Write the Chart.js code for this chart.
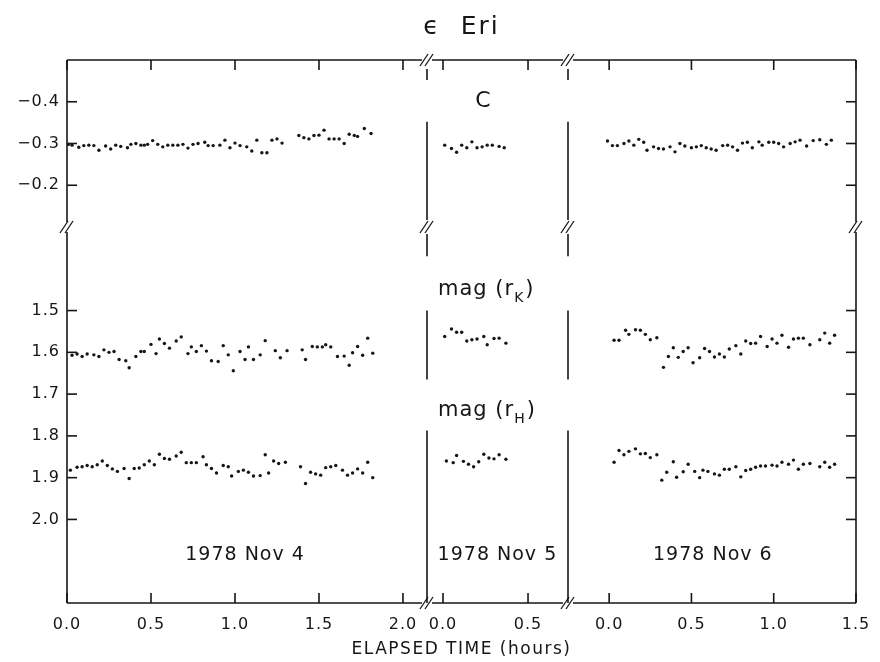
<!DOCTYPE html>
<html>
<head>
<meta charset="utf-8">
<title>eps Eri</title>
<script src="https://cdn.jsdelivr.net/npm/chart.js@4.4.0/dist/chart.umd.min.js"></script>
<style>
  html, body { margin: 0; padding: 0; background: #fff; }
  canvas { display: block; }
</style>
</head>
<body>
<canvas id="eriChart" width="880" height="662"></canvas>
<script>
// Elapsed time (hours) and values, one pair per series
const nov4TimeC = [0.01, 0.03, 0.07, 0.10, 0.13, 0.16, 0.19, 0.23, 0.26, 0.29, 0.32, 0.36, 0.38, 0.41, 0.44, 0.46, 0.48, 0.51, 0.54, 0.57,
  0.60, 0.63, 0.66, 0.69, 0.72, 0.75, 0.78, 0.82, 0.84, 0.87, 0.91, 0.94, 0.97, 1.00, 1.03, 1.07, 1.10, 1.13, 1.16, 1.19,
  1.22, 1.25, 1.28, 1.38, 1.41, 1.44, 1.47, 1.50, 1.53, 1.56, 1.59, 1.62, 1.65, 1.68, 1.71, 1.73, 1.77, 1.81];
const nov4C = [-0.298, -0.296, -0.291, -0.295, -0.296, -0.295, -0.284, -0.294, -0.287, -0.296, -0.293, -0.290, -0.298, -0.300, -0.296, -0.296, -0.298, -0.307, -0.298, -0.292,
  -0.296, -0.296, -0.296, -0.298, -0.289, -0.298, -0.300, -0.303, -0.295, -0.295, -0.296, -0.308, -0.290, -0.301, -0.295, -0.292, -0.282, -0.308, -0.278, -0.278,
  -0.308, -0.311, -0.301, -0.319, -0.314, -0.311, -0.319, -0.320, -0.332, -0.311, -0.311, -0.311, -0.300, -0.322, -0.319, -0.317, -0.336, -0.324];

const nov4TimeK = [0.03, 0.06, 0.09, 0.12, 0.16, 0.19, 0.22, 0.25, 0.28, 0.31, 0.35, 0.37, 0.41, 0.44, 0.46, 0.50, 0.53, 0.55, 0.58, 0.61,
  0.65, 0.68, 0.72, 0.74, 0.77, 0.80, 0.83, 0.86, 0.90, 0.93, 0.96, 0.99, 1.03, 1.06, 1.08, 1.11, 1.15, 1.18, 1.24, 1.27,
  1.31, 1.40, 1.42, 1.46, 1.49, 1.52, 1.54, 1.57, 1.61, 1.65, 1.68, 1.70, 1.73, 1.76, 1.79, 1.82];
const nov4K = [1.607, 1.604, 1.610, 1.604, 1.606, 1.610, 1.594, 1.600, 1.598, 1.617, 1.620, 1.637, 1.610, 1.598, 1.598, 1.581, 1.603, 1.568, 1.579, 1.590,
  1.573, 1.563, 1.603, 1.587, 1.598, 1.584, 1.597, 1.620, 1.622, 1.584, 1.606, 1.644, 1.598, 1.617, 1.587, 1.617, 1.606, 1.572, 1.596, 1.613,
  1.596, 1.594, 1.617, 1.586, 1.587, 1.587, 1.582, 1.587, 1.610, 1.609, 1.631, 1.601, 1.586, 1.607, 1.566, 1.602];

const nov4TimeH = [0.02, 0.06, 0.09, 0.12, 0.15, 0.18, 0.21, 0.24, 0.27, 0.30, 0.34, 0.37, 0.40, 0.43, 0.46, 0.49, 0.52, 0.55, 0.58, 0.61,
  0.65, 0.68, 0.71, 0.74, 0.77, 0.81, 0.83, 0.86, 0.89, 0.93, 0.96, 0.98, 1.02, 1.05, 1.08, 1.11, 1.15, 1.18, 1.20, 1.23,
  1.26, 1.30, 1.39, 1.42, 1.45, 1.48, 1.51, 1.54, 1.57, 1.60, 1.64, 1.67, 1.70, 1.73, 1.76, 1.79, 1.82];
const nov4H = [1.882, 1.875, 1.874, 1.871, 1.874, 1.869, 1.860, 1.871, 1.879, 1.885, 1.878, 1.902, 1.878, 1.877, 1.869, 1.860, 1.869, 1.844, 1.854, 1.856,
  1.848, 1.839, 1.864, 1.864, 1.864, 1.850, 1.869, 1.878, 1.889, 1.871, 1.874, 1.896, 1.885, 1.882, 1.887, 1.896, 1.895, 1.845, 1.889, 1.860,
  1.866, 1.863, 1.874, 1.914, 1.887, 1.891, 1.894, 1.876, 1.874, 1.871, 1.882, 1.894, 1.889, 1.879, 1.889, 1.863, 1.900];

const nov5TimeC = [0.01, 0.05, 0.08, 0.11, 0.14, 0.17, 0.20, 0.23, 0.26, 0.29, 0.33, 0.36];
const nov5C = [-0.296, -0.288, -0.279, -0.296, -0.290, -0.304, -0.290, -0.292, -0.296, -0.296, -0.293, -0.290];
const nov5TimeK = [0.01, 0.05, 0.08, 0.11, 0.14, 0.17, 0.20, 0.24, 0.26, 0.30, 0.33, 0.37];
const nov5K = [1.562, 1.544, 1.552, 1.552, 1.573, 1.570, 1.568, 1.562, 1.582, 1.567, 1.566, 1.578];
const nov5TimeH = [0.02, 0.06, 0.08, 0.12, 0.15, 0.18, 0.21, 0.24, 0.27, 0.30, 0.33, 0.37];
const nov5H = [1.860, 1.864, 1.847, 1.861, 1.868, 1.874, 1.862, 1.844, 1.853, 1.855, 1.845, 1.856];

const nov6TimeC = [-0.01, 0.02, 0.05, 0.09, 0.12, 0.15, 0.18, 0.21, 0.23, 0.27, 0.30, 0.33, 0.37, 0.40, 0.43, 0.46, 0.50, 0.53, 0.56, 0.59,
  0.62, 0.65, 0.69, 0.72, 0.75, 0.78, 0.81, 0.84, 0.87, 0.91, 0.93, 0.97, 1.00, 1.03, 1.06, 1.10, 1.13, 1.16, 1.20, 1.24,
  1.28, 1.32, 1.35];
const nov6C = [-0.306, -0.295, -0.295, -0.300, -0.306, -0.296, -0.310, -0.303, -0.284, -0.292, -0.288, -0.287, -0.292, -0.280, -0.300, -0.294, -0.290, -0.292, -0.295, -0.290,
  -0.287, -0.284, -0.295, -0.296, -0.292, -0.284, -0.301, -0.303, -0.290, -0.304, -0.296, -0.303, -0.303, -0.300, -0.292, -0.300, -0.304, -0.308, -0.294, -0.307,
  -0.309, -0.298, -0.308];

const nov6TimeK = [0.03, 0.06, 0.10, 0.12, 0.16, 0.19, 0.22, 0.25, 0.29, 0.33, 0.36, 0.39, 0.42, 0.45, 0.48, 0.51, 0.55, 0.58, 0.61, 0.64,
  0.67, 0.70, 0.73, 0.77, 0.80, 0.83, 0.86, 0.89, 0.92, 0.96, 0.99, 1.02, 1.05, 1.09, 1.12, 1.15, 1.18, 1.22, 1.28, 1.31,
  1.34, 1.37];
const nov6K = [1.571, 1.571, 1.547, 1.557, 1.546, 1.547, 1.557, 1.570, 1.565, 1.636, 1.610, 1.589, 1.612, 1.598, 1.589, 1.625, 1.613, 1.591, 1.598, 1.611,
  1.604, 1.611, 1.592, 1.584, 1.604, 1.573, 1.579, 1.578, 1.562, 1.586, 1.568, 1.578, 1.559, 1.588, 1.568, 1.566, 1.566, 1.582, 1.570, 1.554,
  1.578, 1.559];

const nov6TimeH = [0.03, 0.06, 0.09, 0.12, 0.16, 0.19, 0.22, 0.25, 0.29, 0.32, 0.35, 0.39, 0.41, 0.45, 0.48, 0.52, 0.55, 0.57, 0.60, 0.64,
  0.67, 0.70, 0.73, 0.77, 0.80, 0.83, 0.86, 0.89, 0.92, 0.95, 0.99, 1.02, 1.05, 1.09, 1.12, 1.15, 1.18, 1.22, 1.28, 1.31,
  1.34, 1.37];
const nov6H = [1.863, 1.835, 1.845, 1.837, 1.831, 1.843, 1.842, 1.852, 1.845, 1.906, 1.887, 1.862, 1.899, 1.886, 1.868, 1.885, 1.900, 1.882, 1.885, 1.891,
  1.894, 1.880, 1.880, 1.874, 1.898, 1.883, 1.880, 1.875, 1.872, 1.872, 1.870, 1.872, 1.863, 1.868, 1.858, 1.880, 1.868, 1.866, 1.874, 1.863,
  1.875, 1.868];

// Tick values
const nov4Ticks = [0, 0.5, 1.0, 1.5, 2.0];
const nov5Ticks = [0, 0.5];
const nov6Ticks = [0, 0.5, 1.0, 1.5];
const colourTicks = [-0.4, -0.3, -0.2];
const magTicks = [1.5, 1.6, 1.7, 1.8, 1.9, 2.0];

const ink = '#161616';
const FONT = '"DejaVu Sans", "Liberation Sans", sans-serif';

function series(times, values, xAxisID, yAxisID) {
    return {
        data: times.map((t, i) => ({ x: t, y: values[i] })),
        xAxisID: xAxisID,
        yAxisID: yAxisID,
        pointRadius: 1.7,
        pointBackgroundColor: ink,
        pointBorderWidth: 0,
        showLine: false
    };
}

function text(ctx, str, x, y, size, align, spacing) {
    ctx.font = size + 'px ' + FONT;
    ctx.textAlign = align || 'center';
    ctx.textBaseline = 'middle';
    ctx.letterSpacing = (spacing || 0) + 'px';
    ctx.fillText(str, x, y);
}

function magLabel(ctx, sub, x, y) {
    ctx.textAlign = 'left';
    ctx.textBaseline = 'alphabetic';
    ctx.letterSpacing = '1px';
    ctx.font = '21px ' + FONT;
    ctx.fillText('mag (r', x, y);
    const w = ctx.measureText('mag (r').width;
    ctx.font = '14px ' + FONT;
    ctx.fillText(sub, x + w, y + 7);
    const w2 = ctx.measureText(sub).width;
    ctx.font = '21px ' + FONT;
    ctx.fillText(')', x + w + w2 + 1, y);
}

// signed labels use a real minus sign, like the lettered original
const fmt = v => (v < 0 ? '\u2212' : '') + Math.abs(v).toFixed(1);

// Frame, broken axes, inward ticks and all lettering
const frameDecor = {
    id: 'frameDecor',
    afterDatasetsDraw(chart) {
        const ctx = chart.ctx;
        const s = chart.scales;
        const a = chart.chartArea;
        const L = a.left, R = a.right, T = a.top, B = a.bottom;
        const b1 = s.x4.right, b2 = s.x6.left, bY = s.yC.bottom;
        const gap = 5, tick = 10;

        ctx.save();
        ctx.strokeStyle = ink;
        ctx.fillStyle = ink;
        ctx.lineWidth = 1.6;
        const seg = (x1, y1, x2, y2) => {
            ctx.beginPath();
            ctx.moveTo(x1, y1);
            ctx.lineTo(x2, y2);
            ctx.stroke();
        };
        const slash = (x, y) => {
            ctx.lineWidth = 1.3;
            seg(x - 7, y + 6, x + 1, y - 6);
            seg(x - 2, y + 6, x + 6, y - 6);
            ctx.lineWidth = 1.6;
        };

        // outer frame
        [T, B].forEach(y => {
            seg(L, y, b1 - gap, y);
            seg(b1 + gap, y, b2 - gap, y);
            seg(b2 + gap, y, R, y);
        });
        [L, R].forEach(x => {
            seg(x, T, x, bY - gap);
            seg(x, bY + gap, x, B);
        });

        // vertical break lines between the nights, interrupted around the labels
        [b1, b2].forEach(x => {
            seg(x, T + 9, x, T + 20);
            seg(x, s.yC.getPixelForValue(-0.352), x, bY - 7);
            seg(x, bY + 7, x, s.yM.getPixelForValue(1.37));
            seg(x, s.yM.getPixelForValue(1.5), x, s.yM.getPixelForValue(1.665));
            seg(x, s.yM.getPixelForValue(1.787), x, B);
        });

        // break marks
        [b1, b2].forEach(x => { slash(x, T); slash(x, B); slash(x, bY); });
        slash(L, bY);
        slash(R, bY);

        // time ticks (top and bottom, pointing inward) with labels below
        [[s.x4, nov4Ticks], [s.x5, nov5Ticks], [s.x6, nov6Ticks]].forEach(([sc, ticks]) => {
            ticks.forEach(v => {
                const x = sc.getPixelForValue(v);
                seg(x, T, x, T + tick);
                seg(x, B, x, B - tick);
                text(ctx, fmt(v), x, B + 22, 16, 'center', 1);
            });
        });

        // value ticks on both sides
        [[s.yC, colourTicks], [s.yM, magTicks]].forEach(([sc, ticks]) => {
            ticks.forEach(v => {
                const y = sc.getPixelForValue(v);
                seg(L, y, L + tick, y);
                seg(R, y, R - tick, y);
                text(ctx, fmt(v), L - 7, y, 16, 'right', 1);
            });
        });

        // titles and panel lettering
        text(ctx, '\u03F5  Eri', (L + R) / 2, 27, 25, 'center', 2);
        text(ctx, 'ELAPSED TIME (hours)', (L + R) / 2, 650, 17, 'center', 1.5);
        text(ctx, 'C', s.x5.getPixelForValue(0.235), s.yC.getPixelForValue(-0.4), 22, 'center', 0);
        magLabel(ctx, 'K', b1 + 11, s.yM.getPixelForValue(1.463));
        magLabel(ctx, 'H', b1 + 11, s.yM.getPixelForValue(1.752));
        const dateY = s.yM.getPixelForValue(2.085);
        text(ctx, '1978 Nov 4', s.x4.getPixelForValue(1.06), dateY, 19, 'center', 1);
        text(ctx, '1978 Nov 5', s.x5.getPixelForValue(0.32), dateY, 19, 'center', 1);
        text(ctx, '1978 Nov 6', s.x6.getPixelForValue(0.63), dateY, 19, 'center', 1);
        ctx.restore();
    }
};

document.addEventListener('DOMContentLoaded', function() {
    const ctx = document.getElementById('eriChart').getContext('2d');

    const timeAxis = (min, max, width) => ({
        type: 'linear', position: 'bottom', stack: 'time', stackWeight: width,
        min: min, max: max, display: false
    });
    const valueAxis = (min, max, height) => ({
        type: 'linear', position: 'right', stack: 'value', stackWeight: height,
        min: min, max: max, reverse: true, display: false
    });

    new Chart(ctx, {
        type: 'scatter',
        data: {
            datasets: [
                series(nov4TimeC, nov4C, 'x4', 'yC'),
                series(nov4TimeK, nov4K, 'x4', 'yM'),
                series(nov4TimeH, nov4H, 'x4', 'yM'),
                series(nov5TimeC, nov5C, 'x5', 'yC'),
                series(nov5TimeK, nov5K, 'x5', 'yM'),
                series(nov5TimeH, nov5H, 'x5', 'yM'),
                series(nov6TimeC, nov6C, 'x6', 'yC'),
                series(nov6TimeK, nov6K, 'x6', 'yM'),
                series(nov6TimeH, nov6H, 'x6', 'yM')
            ]
        },
        options: {
            responsive: false,
            animation: false,
            layout: {
                padding: { left: 67, right: 24, top: 60, bottom: 59 }
            },
            plugins: {
                legend: { display: false },
                tooltip: { enabled: false }
            },
            scales: {
                x4: timeAxis(0, 2.143, 360),
                x5: timeAxis(-0.094, 0.735, 141),
                x6: timeAxis(-0.25, 1.5, 288),
                yC: valueAxis(-0.5, -0.1, 167),
                yM: valueAxis(1.3, 2.2, 376)
            }
        },
        plugins: [frameDecor]
    });
});
</script>
</body>
</html>
